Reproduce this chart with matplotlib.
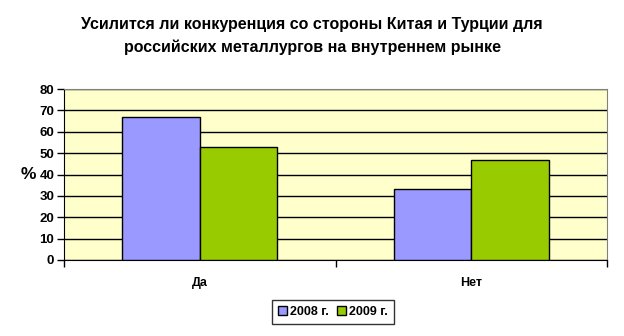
import matplotlib
matplotlib.use("Agg")
import matplotlib.pyplot as plt
import numpy as np

# data
categories = ["Да", "Нет"]
series_names = ["2008 г.", "2009 г."]
values_2008 = [67, 33]
values_2009 = [53, 47]

title = ("Усилится ли конкуренция со стороны Китая и Турции для\n"
         "российских металлургов на внутреннем рынке")

plt.rcParams['font.family'] = ['Liberation Sans', 'DejaVu Sans']

fig = plt.figure(figsize=(6.24, 3.36), dpi=100)
ax = fig.add_axes([64 / 624, 1 - 260 / 336, (607 - 64) / 624, (260 - 89) / 336])
ax.set_facecolor("#FFFFCC")

x = np.arange(len(categories)) + 0.5
w = 0.285
ax.bar(x - w / 2, values_2008, w, color="#9999FF", edgecolor="black",
       linewidth=1, label=series_names[0], zorder=3)
ax.bar(x + w / 2, values_2009, w, color="#99CC00", edgecolor="black",
       linewidth=1, label=series_names[1], zorder=3)

ax.set_xlim(0, len(categories))
ax.set_ylim(0, 80)
ax.set_yticks(range(0, 81, 10))
ax.yaxis.grid(True, color="black", linewidth=1, zorder=1)
ax.set_axisbelow(True)

# category boundary ticks, labels in the middle
ax.set_xticks(range(len(categories) + 1))
ax.set_xticklabels([])
ax.set_xticks(x, minor=True)
ax.set_xticklabels(categories, minor=True, fontsize=9, fontweight="bold")
ax.tick_params(axis="x", which="minor", length=0, pad=12)
ax.tick_params(axis="x", which="major", direction="out", length=5, width=1)
ax.tick_params(axis="y", direction="out", length=5, width=1,
               labelsize=9.5, pad=2)
for lab in ax.get_yticklabels():
    lab.set_fontweight("bold")

for side in ["top", "right"]:
    ax.spines[side].set_color("#808080")
for side in ["left", "bottom"]:
    ax.spines[side].set_color("black")

ax.set_ylabel("%", fontsize=12.5, fontweight="bold", rotation=0,
              labelpad=8, va="center")

fig.text(0.5, 0.893, title, ha="center", va="center", fontsize=11.5,
         fontweight="bold", linespacing=1.6)

leg = fig.legend(loc="center", bbox_to_anchor=(333 / 624, 1 - 312 / 336),
                 ncol=2, fontsize=9, frameon=True, fancybox=False,
                 handlelength=0.7, handleheight=0.7, handletextpad=0.3,
                 columnspacing=0.6, borderpad=0.45, borderaxespad=0)
leg.get_frame().set_edgecolor("black")
leg.get_frame().set_linewidth(1)
for t in leg.get_texts():
    t.set_fontweight("bold")

fig.savefig("out.png", dpi=100)
